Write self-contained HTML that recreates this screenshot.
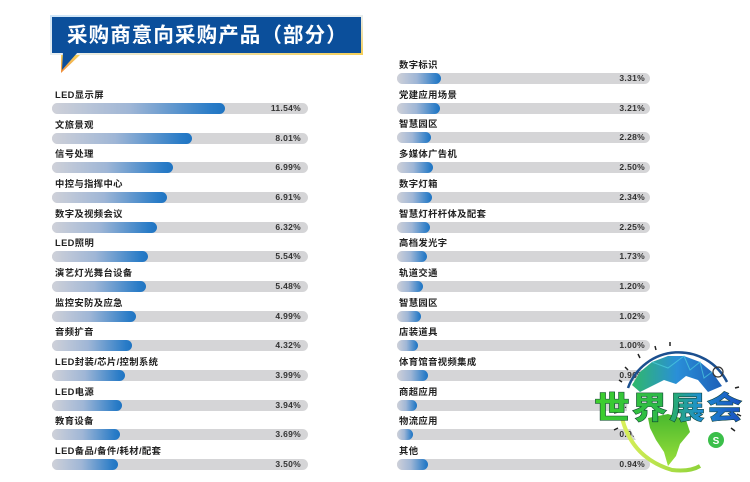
<!DOCTYPE html>
<html><head><meta charset="utf-8"><style>
*{margin:0;padding:0;box-sizing:border-box}
body{width:750px;height:482px;background:#fff;position:relative;overflow:hidden;font-family:"Liberation Sans","Noto Sans CJK SC",sans-serif}
.lb{position:absolute;font-size:9.3px;font-weight:bold;color:#222;line-height:12px;letter-spacing:0.4px;white-space:nowrap}
.tr{position:absolute;height:11px;border-radius:5.5px;background:#d5d5d7}
.fl{position:absolute;left:0;top:0;height:11px;border-radius:5.5px;background:linear-gradient(90deg,#cfd1d9 0%,#9fb6d6 45%,#2a7cc7 92%,#1f74c2 100%)}
.pc{position:absolute;font-size:8.5px;font-weight:bold;color:#333;line-height:11px;text-align:right;letter-spacing:0.3px;width:60px}
</style></head><body>

<!-- title banner -->
<svg style="position:absolute;left:0;top:0" width="380" height="80">
<defs>
<linearGradient id="bd" x1="0" y1="0" x2="1" y2="1">
<stop offset="0" stop-color="#cfe6f8"/><stop offset="0.5" stop-color="#e8eef0"/><stop offset="1" stop-color="#f6cf55"/>
</linearGradient>
<linearGradient id="tl" x1="0" y1="0" x2="0" y2="1">
<stop offset="0" stop-color="#f6d35f"/><stop offset="1" stop-color="#f08a3a"/>
</linearGradient>
</defs>
<rect x="50" y="15" width="313" height="40" fill="url(#bd)"/>
<polygon points="61,55 80,55 61,73" fill="url(#tl)"/>
<rect x="52" y="17" width="309" height="36" fill="#0b4f9b"/>
<polygon points="63,52 78,52 62,70" fill="#0b4f9b"/>
</svg>
<div style="position:absolute;left:67px;top:22px;font-size:20.5px;font-weight:bold;color:#fff;letter-spacing:1.1px;line-height:28px;font-family:'Liberation Sans','Noto Sans CJK SC',sans-serif;white-space:nowrap">采购商意向采购产品（部分）</div>

<!-- left column -->
<div class="lb" style="left:55px;top:89px">LED显示屏</div>
<div class="tr" style="left:52px;top:103px;width:256px"><div class="fl" style="width:173px"></div></div>
<div class="pc" style="left:241px;top:103px">11.54%</div>

<div class="lb" style="left:55px;top:118.7px">文旅景观</div>
<div class="tr" style="left:52px;top:132.7px;width:256px"><div class="fl" style="width:140px"></div></div>
<div class="pc" style="left:241px;top:132.7px">8.01%</div>

<div class="lb" style="left:55px;top:148.3px">信号处理</div>
<div class="tr" style="left:52px;top:162.3px;width:256px"><div class="fl" style="width:121px"></div></div>
<div class="pc" style="left:241px;top:162.3px">6.99%</div>

<div class="lb" style="left:55px;top:178px">中控与指挥中心</div>
<div class="tr" style="left:52px;top:192px;width:256px"><div class="fl" style="width:115px"></div></div>
<div class="pc" style="left:241px;top:192px">6.91%</div>

<div class="lb" style="left:55px;top:207.7px">数字及视频会议</div>
<div class="tr" style="left:52px;top:221.7px;width:256px"><div class="fl" style="width:105px"></div></div>
<div class="pc" style="left:241px;top:221.7px">6.32%</div>

<div class="lb" style="left:55px;top:237.3px">LED照明</div>
<div class="tr" style="left:52px;top:251.3px;width:256px"><div class="fl" style="width:96px"></div></div>
<div class="pc" style="left:241px;top:251.3px">5.54%</div>

<div class="lb" style="left:55px;top:267px">演艺灯光舞台设备</div>
<div class="tr" style="left:52px;top:281px;width:256px"><div class="fl" style="width:94px"></div></div>
<div class="pc" style="left:241px;top:281px">5.48%</div>

<div class="lb" style="left:55px;top:296.7px">监控安防及应急</div>
<div class="tr" style="left:52px;top:310.7px;width:256px"><div class="fl" style="width:84px"></div></div>
<div class="pc" style="left:241px;top:310.7px">4.99%</div>

<div class="lb" style="left:55px;top:326.3px">音频扩音</div>
<div class="tr" style="left:52px;top:340.3px;width:256px"><div class="fl" style="width:80px"></div></div>
<div class="pc" style="left:241px;top:340.3px">4.32%</div>

<div class="lb" style="left:55px;top:356px">LED封装/芯片/控制系统</div>
<div class="tr" style="left:52px;top:370px;width:256px"><div class="fl" style="width:73px"></div></div>
<div class="pc" style="left:241px;top:370px">3.99%</div>

<div class="lb" style="left:55px;top:385.7px">LED电源</div>
<div class="tr" style="left:52px;top:399.7px;width:256px"><div class="fl" style="width:70px"></div></div>
<div class="pc" style="left:241px;top:399.7px">3.94%</div>

<div class="lb" style="left:55px;top:415.3px">教育设备</div>
<div class="tr" style="left:52px;top:429.3px;width:256px"><div class="fl" style="width:68px"></div></div>
<div class="pc" style="left:241px;top:429.3px">3.69%</div>

<div class="lb" style="left:55px;top:445px">LED备品/备件/耗材/配套</div>
<div class="tr" style="left:52px;top:459px;width:256px"><div class="fl" style="width:66px"></div></div>
<div class="pc" style="left:241px;top:459px">3.50%</div>

<!-- right column -->
<div class="lb" style="left:399px;top:59px">数字标识</div>
<div class="tr" style="left:397px;top:73px;width:253px"><div class="fl" style="width:44px"></div></div>
<div class="pc" style="left:585px;top:73px">3.31%</div>

<div class="lb" style="left:399px;top:88.7px">党建应用场景</div>
<div class="tr" style="left:397px;top:102.7px;width:253px"><div class="fl" style="width:43px"></div></div>
<div class="pc" style="left:585px;top:102.7px">3.21%</div>

<div class="lb" style="left:399px;top:118.4px">智慧园区</div>
<div class="tr" style="left:397px;top:132.4px;width:253px"><div class="fl" style="width:34px"></div></div>
<div class="pc" style="left:585px;top:132.4px">2.28%</div>

<div class="lb" style="left:399px;top:148.1px">多媒体广告机</div>
<div class="tr" style="left:397px;top:162.1px;width:253px"><div class="fl" style="width:36px"></div></div>
<div class="pc" style="left:585px;top:162.1px">2.50%</div>

<div class="lb" style="left:399px;top:177.8px">数字灯箱</div>
<div class="tr" style="left:397px;top:191.8px;width:253px"><div class="fl" style="width:35px"></div></div>
<div class="pc" style="left:585px;top:191.8px">2.34%</div>

<div class="lb" style="left:399px;top:207.5px">智慧灯杆杆体及配套</div>
<div class="tr" style="left:397px;top:221.5px;width:253px"><div class="fl" style="width:33px"></div></div>
<div class="pc" style="left:585px;top:221.5px">2.25%</div>

<div class="lb" style="left:399px;top:237.2px">高档发光字</div>
<div class="tr" style="left:397px;top:251.2px;width:253px"><div class="fl" style="width:30px"></div></div>
<div class="pc" style="left:585px;top:251.2px">1.73%</div>

<div class="lb" style="left:399px;top:266.9px">轨道交通</div>
<div class="tr" style="left:397px;top:280.9px;width:253px"><div class="fl" style="width:26px"></div></div>
<div class="pc" style="left:585px;top:280.9px">1.20%</div>

<div class="lb" style="left:399px;top:296.6px">智慧园区</div>
<div class="tr" style="left:397px;top:310.6px;width:253px"><div class="fl" style="width:24px"></div></div>
<div class="pc" style="left:585px;top:310.6px">1.02%</div>

<div class="lb" style="left:399px;top:326.3px">店装道具</div>
<div class="tr" style="left:397px;top:340.3px;width:253px"><div class="fl" style="width:21px"></div></div>
<div class="pc" style="left:585px;top:340.3px">1.00%</div>

<div class="lb" style="left:399px;top:356px">体育馆音视频集成</div>
<div class="tr" style="left:397px;top:370px;width:253px"><div class="fl" style="width:31px"></div></div>
<div class="pc" style="left:585px;top:370px">0.96%</div>

<div class="lb" style="left:399px;top:385.7px">商超应用</div>
<div class="tr" style="left:397px;top:399.7px;width:253px"><div class="fl" style="width:20px"></div></div>
<div class="pc" style="left:585px;top:399.7px">0.95%</div>

<div class="lb" style="left:399px;top:415.4px">物流应用</div>
<div class="tr" style="left:397px;top:429.4px;width:253px"><div class="fl" style="width:16px"></div></div>
<div class="pc" style="left:585px;top:429.4px">0.95%</div>

<div class="lb" style="left:399px;top:445.1px">其他</div>
<div class="tr" style="left:397px;top:459.1px;width:253px"><div class="fl" style="width:31px"></div></div>
<div class="pc" style="left:585px;top:459.1px">0.94%</div>

<!-- watermark logo -->
<svg style="position:absolute;left:0;top:0" width="750" height="482">
<defs>
<linearGradient id="cap" x1="0" y1="0" x2="1" y2="0">
<stop offset="0" stop-color="#2fb86a"/><stop offset="0.5" stop-color="#2a8fd8"/><stop offset="1" stop-color="#1d5fb8"/>
</linearGradient>
<linearGradient id="txt" gradientUnits="userSpaceOnUse" x1="594" y1="0" x2="745" y2="0">
<stop offset="0" stop-color="#3fd02c"/><stop offset="0.45" stop-color="#2bb84a"/><stop offset="0.7" stop-color="#1f8fd0"/><stop offset="1" stop-color="#1848c0"/>
</linearGradient>
<linearGradient id="sa" x1="0" y1="0" x2="0" y2="1">
<stop offset="0" stop-color="#48b82e"/><stop offset="1" stop-color="#9be03a"/>
</linearGradient>
<linearGradient id="arc2" x1="0" y1="0" x2="1" y2="0">
<stop offset="0" stop-color="#d9ef5a"/><stop offset="1" stop-color="#8fd33a"/>
</linearGradient>
</defs>
<ellipse cx="680" cy="410" rx="53" ry="54" fill="#fff"/>
<path d="M628,388 A54,54 0 0 1 727,382" fill="none" stroke="#1b4f8f" stroke-width="2.5"/>
<path d="M632,385 L640,372 L652,362 L668,356 L684,356 L700,362 L712,372 L722,386 L708,392 L698,380 L686,376 L676,384 L664,380 L652,386 L640,392 Z" fill="url(#cap)"/>
<path d="M652,362 L668,368 L684,356 L690,370 L700,362 L704,378 L712,372" fill="none" stroke="#4fd0e0" stroke-width="1" opacity="0.7"/>
<path d="M648,418 L668,414 L686,420 L690,432 L680,444 L676,456 L668,466 L664,452 L656,440 L650,428 Z" fill="url(#sa)"/>
<path d="M622,418 Q632,458 672,470 Q690,472 700,466" fill="none" stroke="url(#arc2)" stroke-width="4"/>
<circle cx="716" cy="440" r="8" fill="#3bbf4a"/>
<text x="716" y="444" font-size="10" font-weight="bold" fill="#fff" text-anchor="middle" font-family="Liberation Sans,sans-serif">S</text>
<circle cx="718" cy="372" r="5" fill="none" stroke="#333" stroke-width="1.2"/>
<g stroke="#222" stroke-width="1.5">
<line x1="622" y1="382" x2="619" y2="380"/><line x1="628" y1="370" x2="625" y2="367"/>
<line x1="640" y1="358" x2="638" y2="354"/><line x1="656" y1="350" x2="655" y2="346"/>
<line x1="670" y1="346" x2="670" y2="342"/><line x1="735" y1="388" x2="739" y2="387"/>
<line x1="737" y1="414" x2="741" y2="416"/><line x1="731" y1="428" x2="735" y2="431"/>
<line x1="618" y1="412" x2="614" y2="413"/><line x1="618" y1="428" x2="614" y2="430"/>
</g>
<text x="594" y="418" font-size="36" font-weight="900" fill="url(#txt)" stroke="#0d3f30" stroke-width="0.6" letter-spacing="1.5" transform="translate(0,55) scale(1,0.87)" font-family="Noto Sans CJK SC,WenQuanYi Zen Hei,sans-serif">世界展会</text>
</svg>
</body></html>
